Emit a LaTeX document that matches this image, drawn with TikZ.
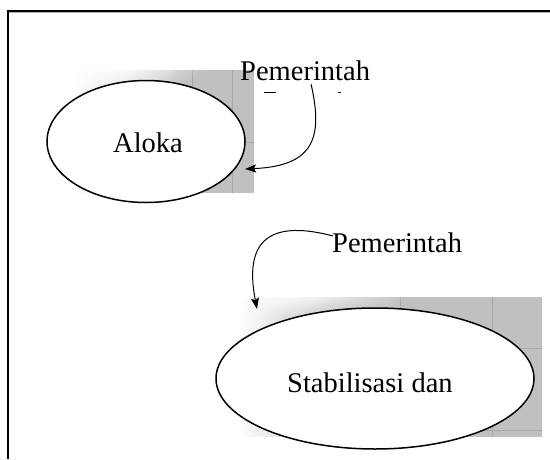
\documentclass[tikz,border=0pt]{standalone}
\usepackage{fontspec}
\setmainfont{Liberation Serif}
\usetikzlibrary{arrows.meta,shapes.geometric,fadings}
\definecolor{panelgray}{RGB}{192,192,192}
\definecolor{gridgray}{RGB}{168,168,168}
\tikzfading[name=softspot, inner color=transparent!0, outer color=transparent!100]
\tikzset{
  bubble/.style={ellipse, draw=black, line width=1.5pt, fill=white, inner sep=0pt},
  label/.style={font=\fontsize{28.5}{32}\selectfont, inner sep=0pt, anchor=base west},
  flow/.style={draw=black, line width=1pt, -{Stealth[length=11pt,width=8pt,inset=2pt]}},
  gridline/.style={draw=gridgray, line width=0.8pt},
}
\begin{document}
\begin{tikzpicture}[x=1pt,y=-1pt]
  \useasboundingbox (0,0) rectangle (550,459);
  % frame
  \draw[line width=2pt] (8,459) -- (8,11) -- (550,11);
  \draw[gray!60, line width=0.8pt] (9,12.8) -- (550,12.8);

  % shaded panel behind the first ellipse (soft left side)
  \begin{scope}
    \clip (75,70) rectangle (254,193);
    \fill[panelgray] (75,70) rectangle (254,193);
    \draw[gridline] (192,70) -- (192,193) (232,70) -- (232,193) (75,142) -- (254,142);
    \fill[white, path fading=east] (75,70) rectangle (180,193);
    \fill[white, path fading=softspot] (110,66) ellipse (95 and 28);
  \end{scope}

  % shaded panel behind the second ellipse (soft left side)
  \begin{scope}
    \clip (240,297) rectangle (542,437);
    \fill[panelgray] (240,297) rectangle (542,437);
    \draw[gridline] (400,297) -- (400,437) (492,297) -- (492,437) (240,348) -- (542,348) (240,430) -- (542,430);
    \fill[white, path fading=east] (240,297) rectangle (330,437);
    \fill[white, path fading=softspot] (290,293) ellipse (125 and 24);
  \end{scope}

  % ellipses
  \node[bubble, minimum width=198pt, minimum height=122pt] (aloka) at (146,141.5) {};
  \node[bubble, minimum width=318pt, minimum height=141pt] (stab) at (375,378.5) {};

  % texts
  \node[label] (t1) at (240,80) {Pemerintah};
  \node[label] (t2) at (332,252) {Pemerintah};
  \node[label] at (113,152) {Aloka};
  \node[label] at (287,392) {Stabilisasi dan};

  % clipped remnants under the first label
  \draw[line width=0.8pt] (264,92) -- (276,92);
  \draw[line width=0.8pt] (338,92) -- (341,92);

  % connectors
  \coordinate (a1) at (311,84);
  \coordinate (a2) at (245,169);
  \draw[flow] (a1) .. controls (324,140) and (312,166) .. (a2);
  \coordinate (b1) at (333,236);
  \coordinate (b2) at (257,309);
  \draw[flow] (b1) .. controls (250,214) and (248,262) .. (b2);
\end{tikzpicture}
\end{document}
